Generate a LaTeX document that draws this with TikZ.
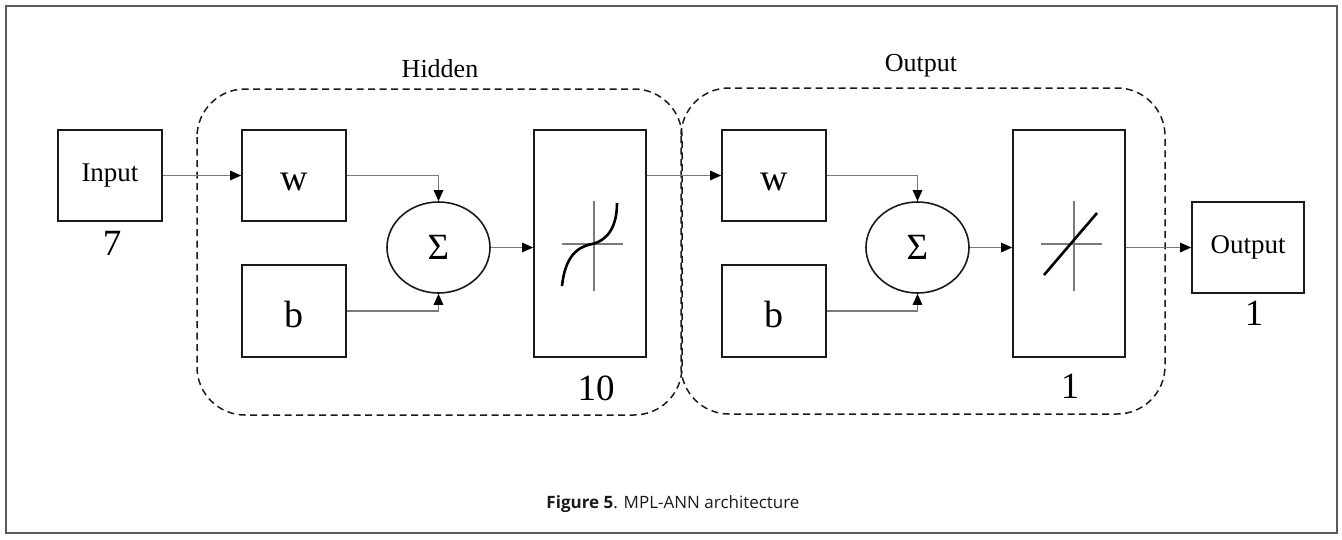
\documentclass[tikz,border=0pt]{standalone}
\usepackage{fontspec}
\setmainfont{Liberation Serif}
\newfontfamily\capfont{Open Sans}
\usetikzlibrary{arrows.meta,shapes.geometric}
\definecolor{linegray}{HTML}{7A7A7A}
\definecolor{framegray}{HTML}{5A5A5A}
\definecolor{ink}{HTML}{1A1A1A}
\tikzset{
  box/.style={draw=ink, line width=1.6pt, rectangle, inner sep=0pt, font=\fontsize{27}{30}\selectfont},
  wbox/.style={box, minimum width=104pt, minimum height=91pt, font=\fontsize{38}{40}\selectfont, text height=30pt, text depth=0pt},
  bbox/.style={box, minimum width=104pt, minimum height=92pt, font=\fontsize{38}{40}\selectfont, text height=32pt, text depth=0pt},
  sumnode/.style={draw=ink, line width=1.6pt, ellipse, inner sep=0pt, minimum width=103pt, minimum height=91pt, font=\fontsize{37}{40}\selectfont},
  actbox/.style={box, minimum width=112pt, minimum height=227pt},
  conn/.style={draw=linegray, line width=1.2pt, -{Triangle[length=11pt,width=9.5pt,color=black]}},
  group/.style={draw=ink, line width=1.5pt, dash pattern=on 7pt off 4.5pt, rounded corners=48pt},
  lbl/.style={inner sep=0pt, anchor=base, font=\fontsize{26}{30}\selectfont},
  num/.style={inner sep=0pt, anchor=base, font=\fontsize{37}{40}\selectfont},
  axis/.style={draw=linegray, line width=1.1pt},
  curve/.style={draw=black, line width=2.6pt},
}
\begin{document}
\begin{tikzpicture}[x=1pt, y=-1pt]
  \useasboundingbox (0,0) rectangle (1342,539);
  % outer frame
  \draw[framegray, line width=1.5pt] (6,6) rectangle (1337,533);

  % layer groups
  \draw[group] (197,89) rectangle (682,415);
  \draw[group] (681,88) rectangle (1165,414);
  \node[lbl] (hidlbl) at (440,77) {Hidden};
  \node[lbl] (outlbl) at (921,71) {Output};

  % input
  \node[box, minimum width=104pt, minimum height=91pt] (in) at (110,175.5) {Input};
  \node[num] (nin) at (112,255) {7};

  % hidden layer
  \node[wbox] (hw) at (294,175.5) {w};
  \node[bbox] (hb) at (294,311) {b};
  \node[sumnode] (hs) at (438.5,247.5) {Σ};
  \node[actbox] (ha) at (590,243.5) {};
  \node[num] (nha) at (596,400) {10};

  % output layer
  \node[wbox] (ow) at (774,175.5) {w};
  \node[bbox] (ob) at (774,311) {b};
  \node[sumnode] (os) at (917.5,247.5) {Σ};
  \node[actbox] (oa) at (1069,243.5) {};
  \node[num] (noa) at (1070,398) {1};

  % output
  \node[box, minimum width=112pt, minimum height=91pt] (out) at (1248,247.5) {Output};
  \node[num] (nout) at (1254,325) {1};

  % hidden activation: sigmoid-like curve
  \coordinate (hc) at (594,244);
  \draw[axis] ([xshift=-32pt]hc) -- ([xshift=29pt]hc);
  \draw[axis] ([yshift=-47pt]hc) -- ([yshift=43pt]hc);
  \draw[curve] (562,286) .. controls (565,258) and (576,247) .. (592,244)
               .. controls (609,240) and (617,225) .. (617,203);

  % output activation: linear
  \coordinate (oc) at (1074,244);
  \draw[axis] ([xshift=-33pt]oc) -- ([xshift=28pt]oc);
  \draw[axis] ([yshift=-47pt]oc) -- ([yshift=43pt]oc);
  \draw[curve] (1044,275) -- (1097,213);

  % connectors
  \draw[conn] (in.east) -- (in.east -| hw.west);
  \draw[conn] (hw.east) -| (hs.north);
  \draw[conn] (hb.east) -| (hs.south);
  \draw[conn] (hs.east) -- (hs.east -| ha.west);
  \draw[conn] (ow.west -| ha.east) -- (ow.west);
  \draw[conn] (ow.east) -| (os.north);
  \draw[conn] (ob.east) -| (os.south);
  \draw[conn] (os.east) -- (os.east -| oa.west);
  \draw[conn] (out.west -| oa.east) -- (out.west);

  % caption
  \node[inner sep=0pt, anchor=base, text=ink, font=\capfont\fontsize{17}{20}\selectfont] (cap) at (673,508)
    {\textbf{Figure 5}. MPL-ANN architecture};
\end{tikzpicture}
\end{document}
